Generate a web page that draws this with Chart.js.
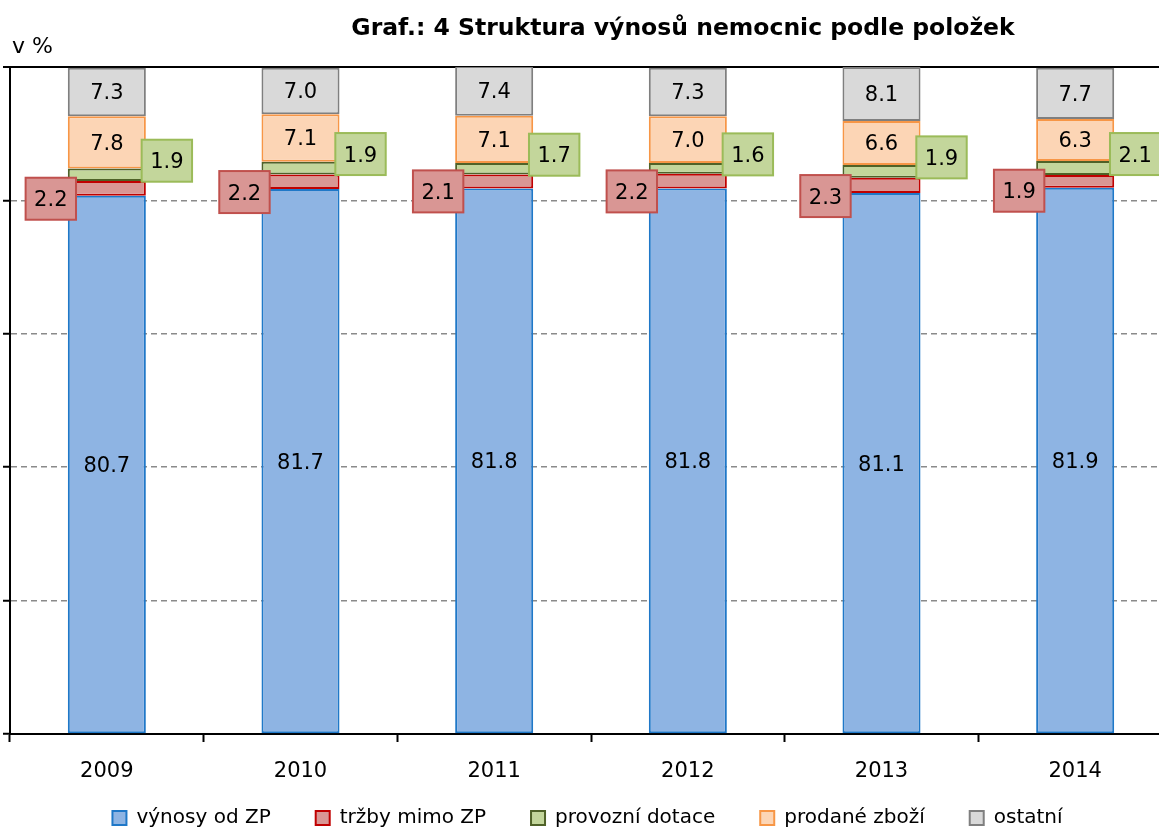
<!DOCTYPE html>
<html>
<head>
<meta charset="utf-8">
<script src="https://cdn.jsdelivr.net/npm/chart.js@4"></script>
<style>
body{margin:0;overflow:hidden;background:#fff;}
#obal{width:1172px;height:859px;}
</style>
</head>
<body>
<div id="obal"><canvas id="graf"></canvas></div>
<script>
const roky = ["2009", "2010", "2011", "2012", "2013", "2014"];
const vynosyZP = [80.7, 81.7, 81.8, 81.8, 81.1, 81.9];
const trzbyMimoZP = [2.2, 2.2, 2.1, 2.2, 2.3, 1.9];
const provozniDotace = [1.9, 1.9, 1.7, 1.6, 1.9, 2.1];
const prodaneZbozi = [7.8, 7.1, 7.1, 7.0, 6.6, 6.3];
const ostatni = [7.3, 7.0, 7.4, 7.3, 8.1, 7.7];

const pismo = "'DejaVu Sans', sans-serif";

// popisky hodnot (cervene vlevo, zelene vpravo v ramecku)
const popisky = {
    id: "popisky",
    afterDatasetsDraw(chart){
        const ctx = chart.ctx;
        ctx.save();
        ctx.font = "21px " + pismo;
        ctx.textAlign = "center";
        ctx.textBaseline = "middle";
        chart.data.datasets.forEach((ds, d) => {
            const meta = chart.getDatasetMeta(d);
            meta.data.forEach((el, i) => {
                const text = ds.data[i].toFixed(1);
                let x = el.x;
                let y = (el.y + el.base) / 2;
                if(d === 1 || d === 2){
                    if(d === 1){
                        x = el.x - el.width / 2 - 17;
                        y = el.base + 3;
                    }else{
                        x = el.x + el.width / 2 + 21;
                        y = y - 14;
                    }
                    const w = ctx.measureText(text).width + 17;
                    const h = 42;
                    ctx.fillStyle = ds.backgroundColor;
                    ctx.strokeStyle = ds.popiskaRamecek;
                    ctx.lineWidth = 2;
                    ctx.fillRect(x - w / 2, y - h / 2, w, h);
                    ctx.strokeRect(x - w / 2, y - h / 2, w, h);
                }
                ctx.fillStyle = "#000";
                ctx.fillText(text, x, y + 2);
            });
        });
        ctx.restore();
    }
};

const nadpis = {
    id: "nadpis",
    afterLayout(chart){
        // legenda o kus vys, blize k ose
        if(chart.legend){
            chart.legend.top -= 21;
            chart.legend.bottom -= 21;
        }
    },
    afterDraw(chart){
        const ctx = chart.ctx;
        ctx.save();
        ctx.fillStyle = "#000";
        ctx.textBaseline = "middle";
        ctx.font = "bold 23.5px " + pismo;
        ctx.textAlign = "center";
        ctx.fillText("Graf.: 4 Struktura výnosů nemocnic podle položek", 683, 29);
        ctx.font = "22px " + pismo;
        ctx.textAlign = "left";
        ctx.fillText("v %", 12, 47);
        ctx.restore();
    }
};

document.addEventListener("DOMContentLoaded", () => {
    const ctx = document.getElementById("graf");

    new Chart(ctx, {
        type: "bar",
        data: {
            labels: roky,
            datasets: [
                {label: "výnosy od ZP", data: vynosyZP, backgroundColor: "#8EB4E3", borderColor: "#1F78C8"},
                {label: "tržby mimo ZP", data: trzbyMimoZP, backgroundColor: "#D99694", borderColor: "#C00000", popiskaRamecek: "#C0504D"},
                {label: "provozní dotace", data: provozniDotace, backgroundColor: "#C3D69B", borderColor: "#4F6228", popiskaRamecek: "#9BBB59"},
                {label: "prodané zboží", data: prodaneZbozi, backgroundColor: "#FCD5B5", borderColor: "#F79646"},
                {label: "ostatní", data: ostatni, backgroundColor: "#D9D9D9", borderColor: "#7F7F7F"}
            ].map(ds => Object.assign(ds, {
                borderWidth: 2,
                borderSkipped: false,
                categoryPercentage: 1,
                barPercentage: 0.403
            }))
        },
        options: {
            responsive: true,
            maintainAspectRatio: false,
            animation: false,
            layout: {padding: {top: 67, left: 3, right: 0, bottom: 0}},
            plugins: {
                tooltip: {enabled: false},
                title: {display: false},
                legend: {
                    position: "bottom",
                    labels: {
                        boxWidth: 14,
                        boxHeight: 14,
                        padding: 45,
                        color: "#000",
                        font: {family: pismo, size: 20}
                    }
                }
            },
            scales: {
                x: {
                    stacked: true,
                    grid: {drawOnChartArea: false, offset: true, tickLength: 8, tickColor: "#000", tickWidth: 2},
                    border: {color: "#000", width: 2},
                    ticks: {color: "#000", padding: 17, font: {family: pismo, size: 21}},
                    afterFit(scale){ scale.height = 50; }
                },
                y: {
                    stacked: true,
                    min: 0,
                    max: 100,
                    ticks: {display: false, stepSize: 20},
                    grid: {
                        tickLength: 7,
                        tickColor: "#000",
                        tickWidth: 2,
                        tickBorderDash: [],
                        color: c => c.tick && c.tick.value === 100 ? "#000" : "#8A8A8A",
                        lineWidth: c => c.tick && c.tick.value === 100 ? 2 : 1.5
                    },
                    border: {
                        color: "#000",
                        width: 2,
                        dash: c => c.tick && (c.tick.value === 100 || c.tick.value === 0) ? [] : [6, 4]
                    }
                }
            }
        },
        plugins: [popisky, nadpis]
    });
});
</script>
</body>
</html>
